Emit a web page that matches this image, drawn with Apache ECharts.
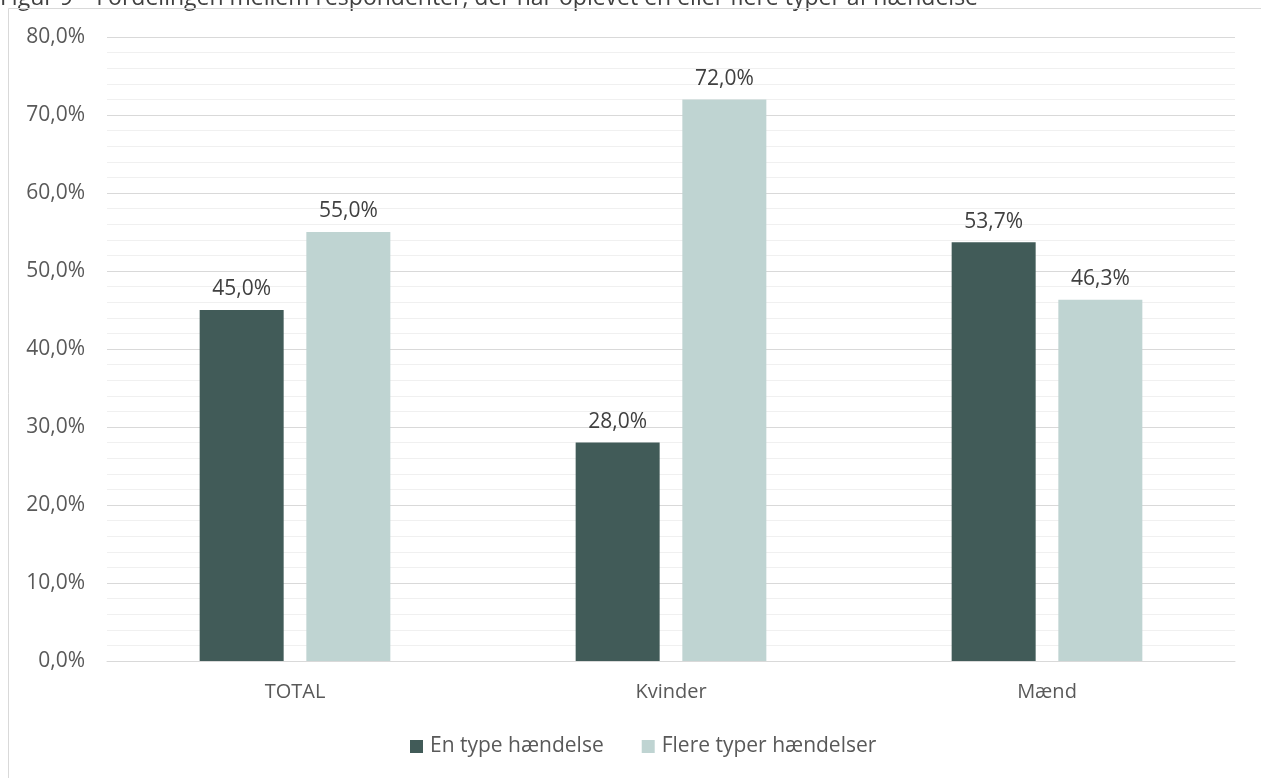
<!DOCTYPE html>
<html>
<head>
<meta charset="utf-8">
<script src="https://cdn.jsdelivr.net/npm/echarts@6/dist/echarts.min.js"></script>
<style>
html,body{margin:0;padding:0;background:#fff;}
#chart{width:1261px;height:778px;}
</style>
</head>
<body>
<div id="chart"></div>
<script>
const titleText = 'Figur 9 – Fordelingen mellem respondenter, der har oplevet en eller flere typer af hændelse';
const categories = ['TOTAL', 'Kvinder', 'Mænd'];
const seriesNames = ['En type hændelse', 'Flere typer hændelser'];
const enType = [45.0, 28.0, 53.7];
const flereTyper = [55.0, 72.0, 46.3];
const yTicks = [0, 10, 20, 30, 40, 50, 60, 70, 80];

const fmt = v => v.toFixed(1).replace('.', ',') + '%';
const FONT = '"Open Sans", "Noto Sans", sans-serif';

const chart = echarts.init(document.getElementById('chart'));
chart.setOption({
  animation: false,
  textStyle: { fontFamily: FONT },
  graphic: [
    {
      type: 'text',
      style: { x: 0, y: 10, text: titleText, font: '23px ' + FONT, fill: '#404040', textVerticalAlign: 'bottom' },
      silent: true
    },
    {
      type: 'polyline',
      shape: { points: [[8.5, 778], [8.5, 8.5], [1261, 8.5]] },
      style: { stroke: '#d9d9d9', lineWidth: 1, fill: null },
      silent: true
    }
  ],
  grid: { left: 107, right: 26, top: 37, bottom: 117, containLabel: false },
  legend: {
    data: seriesNames,
    bottom: 16,
    left: 405,
    icon: 'rect',
    itemWidth: 13,
    itemHeight: 13,
    itemGap: 38,
    textStyle: { color: '#595959', fontSize: 21, fontFamily: FONT, padding: [0, 0, 0, 2] }
  },
  xAxis: {
    type: 'category',
    data: categories,
    axisLine: { lineStyle: { color: '#d9d9d9', width: 1 } },
    axisTick: { show: false },
    axisLabel: { color: '#595959', fontSize: 20, margin: 21, fontFamily: FONT }
  },
  yAxis: {
    type: 'value',
    min: yTicks[0],
    max: yTicks[yTicks.length - 1],
    interval: 10,
    axisLine: { show: false },
    axisTick: { show: false },
    axisLabel: { color: '#595959', fontSize: 21, margin: 22, formatter: v => fmt(v), fontFamily: FONT },
    splitLine: { lineStyle: { color: '#d9d9d9', width: 1 } },
    minorTick: { show: false, splitNumber: 5 },
    minorSplitLine: { show: true, lineStyle: { color: '#f0f0f0', width: 1 } }
  },
  series: [
    {
      name: seriesNames[0],
      type: 'bar',
      data: enType,
      barWidth: 84,
      barGap: '27%',
      itemStyle: { color: '#415b58' },
      label: { show: true, position: 'top', distance: 10, color: '#404040', fontSize: 21, fontFamily: FONT, formatter: p => fmt(p.value) }
    },
    {
      name: seriesNames[1],
      type: 'bar',
      data: flereTyper,
      barWidth: 84,
      itemStyle: { color: '#bfd4d2' },
      label: { show: true, position: 'top', distance: 10, color: '#404040', fontSize: 21, fontFamily: FONT, formatter: p => fmt(p.value) }
    }
  ]
});
</script>
</body>
</html>
